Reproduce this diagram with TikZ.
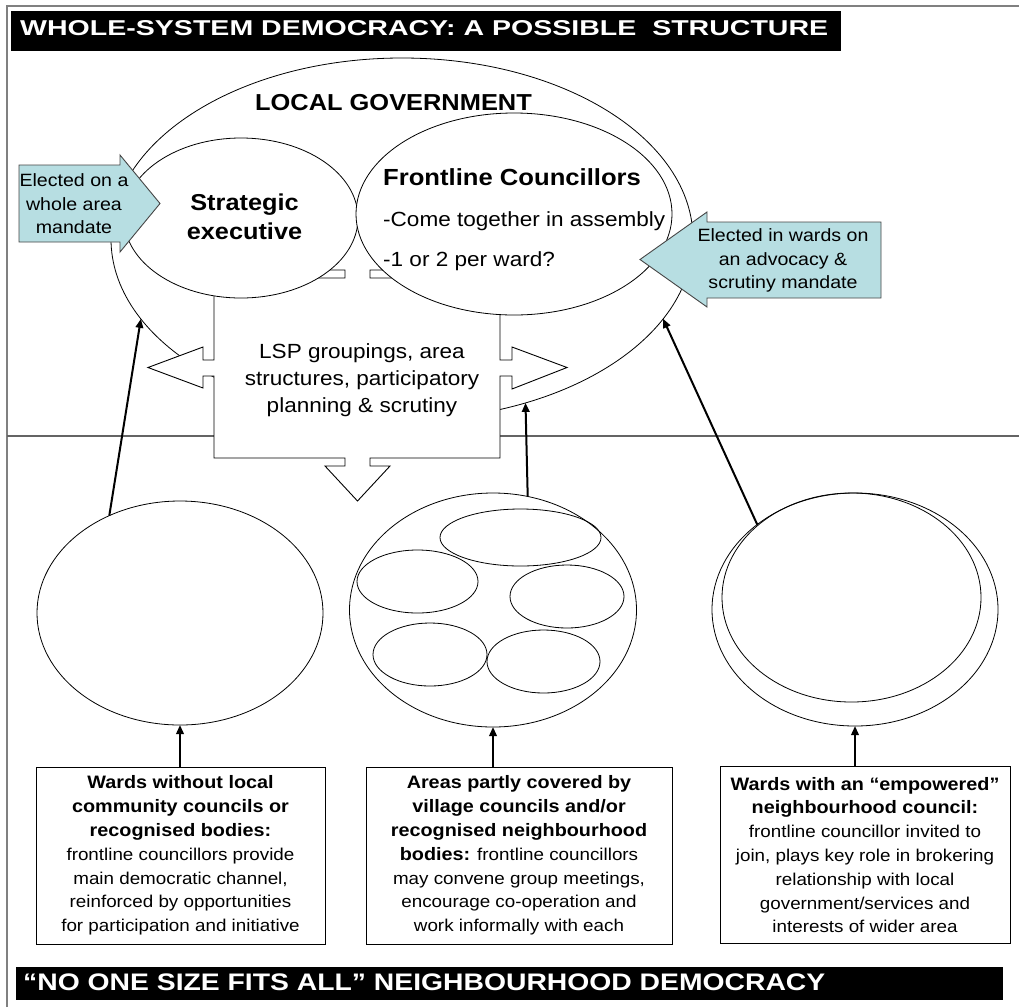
\documentclass[tikz,border=0pt]{standalone}
\usepackage{graphicx}
\usepackage{fontspec}
\setmainfont[FakeStretch=1.1]{Liberation Sans}
\usetikzlibrary{shapes.geometric,arrows.meta}
\definecolor{bluefill}{RGB}{183,222,226}
\definecolor{blueedge}{RGB}{70,70,70}
\definecolor{framegray}{RGB}{128,128,128}
\definecolor{divgray}{RGB}{100,100,100}
\begin{document}
\begin{tikzpicture}[x=1pt,y=-1pt,
  ell/.style={ellipse, draw=black, line width=0.8pt, inner sep=0pt, outer sep=0pt},
  conn/.style={line width=2pt, -{Triangle[length=9pt,width=7.5pt]}},
  wardbox/.style={draw=black, line width=0.9pt, fill=white, align=center, inner sep=0pt,
    minimum height=177pt, font=\fontsize{17.1}{23.8}\selectfont},
  bluearrow/.style={fill=bluefill, draw=blueedge, line width=0.9pt},
  txt/.style={inner sep=0pt, align=center},
]
\useasboundingbox (0,0) rectangle (1019,1007);
\fill[white] (0,0) rectangle (1019,1007);
% frame and divider
\draw[framegray, line width=1.5pt] (7,1007) -- (7,6) -- (1019,6);
\draw[divgray, line width=1.2pt] (7,436) -- (1019,436);

% local government ellipse
\node[ell, minimum width=582pt, minimum height=362pt] (lg) at (402,239) {};

% four-way arrow block
\draw[line width=0.9pt, fill=white, line join=miter]
  (214,278) -- (345,278) -- (345,270) -- (325,270) -- (357.5,222) -- (390,270) -- (370,270) -- (370,278)
  -- (500,278) -- (500,360) -- (512,360) -- (512,347) -- (567,367.5) -- (512,389) -- (512,376) -- (500,376)
  -- (500,458) -- (370,458) -- (370,466) -- (390,466) -- (357.5,501) -- (325,466) -- (345,466) -- (345,458)
  -- (214,458) -- (214,376) -- (203,376) -- (203,388) -- (148,367.5) -- (203,347) -- (203,360) -- (214,360) -- cycle;
\node[txt, font=\fontsize{20.5}{27}\selectfont] (lsp) at (362,380)
  {LSP groupings, area\\structures, participatory\\planning \& scrutiny};

% inner ellipses
\node[ell, fill=white, minimum width=234pt, minimum height=160pt] (se) at (241,218) {};
\node[ell, fill=white, minimum width=316pt, minimum height=202pt] (fc) at (514,214) {};

% blue arrows
\draw[bluearrow] (19,165) -- (120,165) -- (120,155) -- (160,203.5) -- (120,252) -- (120,242) -- (19,242) -- cycle;
\node[txt, font=\fontsize{17.8}{23.5}\selectfont] (ela) at (74,204) {Elected on a\\whole area\\mandate};
\draw[bluearrow] (881,222) -- (707,222) -- (707,212) -- (640,259.5) -- (707,307) -- (707,298) -- (881,298) -- cycle;
\node[txt, font=\fontsize{17.8}{23.5}\selectfont] (elw) at (783,260.5) {Elected in wards on\\an advocacy \&\\scrutiny mandate};

% texts in top area
\node[txt, font=\fontsize{23.1}{28}\selectfont\bfseries] (lgt) at (393.5,103) {LOCAL GOVERNMENT};
\node[txt, font=\fontsize{23}{29}\selectfont\bfseries] (set) at (244.5,216.5) {Strategic\\executive};
\node[txt, anchor=west, font=\fontsize{23.3}{28}\selectfont\bfseries] (fct) at (383,177) {Frontline Councillors};
\node[txt, anchor=west, font=\fontsize{20.5}{24}\selectfont] (fc1) at (383,221) {-Come together in assembly};
\node[txt, anchor=west, font=\fontsize{20.5}{24}\selectfont] (fc2) at (383,261) {-1 or 2 per ward?};

% ward ellipses
\node[ell, minimum width=286pt, minimum height=224pt] (lw) at (180,613) {};
\node[ell, minimum width=287pt, minimum height=234pt] (mw) at (493,610) {};
\node[ell, minimum width=161pt, minimum height=57pt] (m1) at (520.5,537.5) {};
\node[ell, minimum width=121pt, minimum height=63pt] (m2) at (417.5,581.5) {};
\node[ell, minimum width=114pt, minimum height=63pt] (m3) at (567,596.5) {};
\node[ell, minimum width=114pt, minimum height=63pt] (m4) at (430,654.5) {};
\node[ell, minimum width=113pt, minimum height=63pt] (m5) at (543.5,661.5) {};
\node[ell, minimum width=286pt, minimum height=233pt] (rw) at (855,609.5) {};
\node[ell, minimum width=259pt, minimum height=209pt] (rwi) at (851.5,597.5) {};

% boxes
\node[wardbox, minimum width=289pt] (lbox) at (180.5,855.5)
  {{\fontsize{18}{23.8}\selectfont\bfseries Wards without local}\\
   {\fontsize{18}{23.8}\selectfont\bfseries community councils or}\\
   {\fontsize{18}{23.8}\selectfont\bfseries recognised bodies:}\\
   frontline councillors provide\\
   main democratic channel,\\
   reinforced by opportunities\\
   for participation and initiative};
\node[wardbox, minimum width=306pt] (mbox) at (519,855.5)
  {{\fontsize{18}{23.8}\selectfont\bfseries Areas partly covered by}\\
   {\fontsize{18}{23.8}\selectfont\bfseries village councils and/or}\\
   {\fontsize{18}{23.8}\selectfont\bfseries recognised neighbourhood}\\
   {\fontsize{18}{23.8}\selectfont\bfseries bodies:} frontline councillors\\
   may convene group meetings,\\
   encourage co-operation and\\
   work informally with each};
\node[wardbox, minimum width=290pt] (rbox) at (865,855)
  {{\fontsize{18}{23.8}\selectfont\bfseries Wards with an “empowered”}\\
   {\fontsize{18}{23.8}\selectfont\bfseries neighbourhood council:}\\
   frontline councillor invited to\\
   join, plays key role in brokering\\
   relationship with local\\
   government/services and\\
   interests of wider area};

% connectors
\draw[conn] (lbox.north -| lw.south) -- (lw.south);
\draw[conn] (mbox.north -| mw.south) -- (mw.south);
\draw[conn] (rbox.north -| rw.south) -- (rw.south);
\draw[conn] (lw.126.5) -- (lg.197.6);
\draw[conn] (mw.73.1) -- (lg.307.4);
\draw[conn] (rw.139.6) -- (lg.343.9);

% title bars
\node[fill=black, minimum width=830pt, minimum height=40pt, inner sep=0pt, anchor=north west] (tbar) at (11,11) {};
\node[anchor=base west, inner sep=0pt, text=white] (ttl) at (20,35)
  {\resizebox{808pt}{15pt}{\bfseries WHOLE-SYSTEM DEMOCRACY: A POSSIBLE\ \ STRUCTURE}};
\node[fill=black, minimum width=987pt, minimum height=33pt, inner sep=0pt, anchor=north west] (bbar) at (16,967) {};
\node[anchor=base west, inner sep=0pt, text=white] (btl) at (23,990)
  {\resizebox{802pt}{16.7pt}{\bfseries “NO ONE SIZE FITS ALL” NEIGHBOURHOOD DEMOCRACY}};
\end{tikzpicture}
\end{document}
